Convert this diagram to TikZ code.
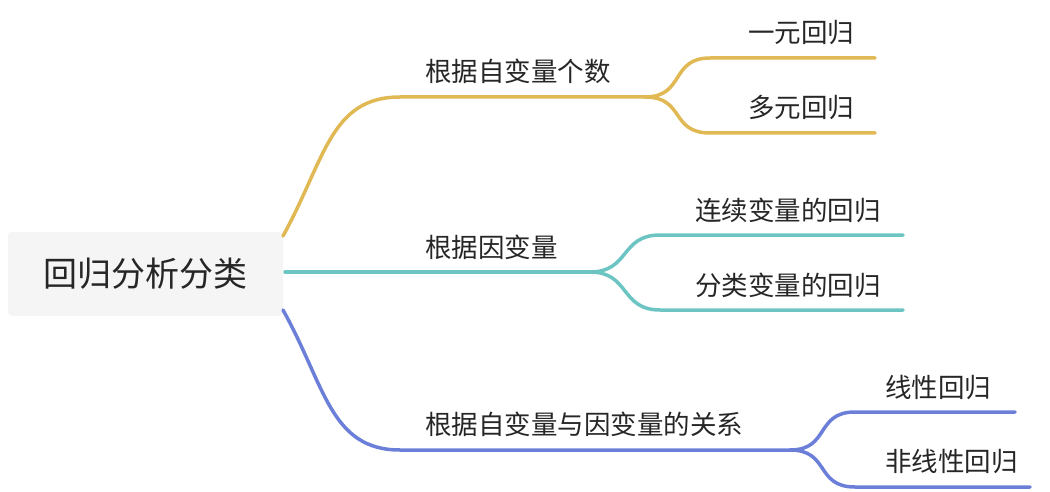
\documentclass[tikz,border=0pt]{standalone}
\usepackage{fontspec}
\newfontfamily\cjk{Noto Sans CJK SC}
\begin{document}
\begin{tikzpicture}[x=1pt,y=-1pt,
  br/.style={line width=3.5pt,line cap=round},
  lab/.style={font=\cjk\fontsize{26.5}{30}\selectfont,text=black!85,inner sep=0pt},
  lft/.style={lab,anchor=west}]
\useasboundingbox (0,0) rectangle (1050,492);
\definecolor{cy}{HTML}{E0B955}
\definecolor{ct}{HTML}{6CC4C3}
\definecolor{cb}{HTML}{6B7FD9}
\node[fill=black!4,rounded corners=4pt,minimum width=275pt,minimum height=84pt,inner sep=0pt,font=\cjk\fontsize{34}{38}\selectfont,text=black!85] (root) at (145.5,274) {回归分析分类};
% yellow
\coordinate (y0) at (283,236); \coordinate (y1) at (400,97); \coordinate (y2) at (645,97);
\coordinate (ya) at (710,58); \coordinate (ya2) at (875,58);
\coordinate (yb) at (710,133); \coordinate (yb2) at (875,133);
\draw[br,cy] (y0) .. controls (325,160) and (330,97) .. (y1) -- (y2);
\draw[br,cy] (y2) .. controls (685,97) and (670,58) .. (ya) -- (ya2);
\draw[br,cy] (y2) .. controls (685,97) and (670,133) .. (yb) -- (yb2);
\node[lft] (l1) at (425,71) {根据自变量个数};
\node[lab] (l1a) at (801,32) {一元回归};
\node[lab] (l1b) at (801,107) {多元回归};
% teal
\coordinate (t0) at (285,272); \coordinate (t1) at (590,272);
\coordinate (ta) at (660,235); \coordinate (ta2) at (903,235);
\coordinate (tb) at (660,310); \coordinate (tb2) at (903,310);
\draw[br,ct] (t0) -- (t1);
\draw[br,ct] (t1) .. controls (630,272) and (620,235) .. (ta) -- (ta2);
\draw[br,ct] (t1) .. controls (630,272) and (620,310) .. (tb) -- (tb2);
\node[lft] (l2) at (425,247) {根据因变量};
\node[lab] (l2a) at (788,210) {连续变量的回归};
\node[lab] (l2b) at (788,285) {分类变量的回归};
% blue
\coordinate (b0) at (283,310); \coordinate (b1) at (400,450); \coordinate (b2) at (790,450);
\coordinate (ba) at (855,412); \coordinate (ba2) at (1015,412);
\coordinate (bb) at (855,487); \coordinate (bb2) at (1030,487);
\draw[br,cb] (b0) .. controls (325,385) and (330,450) .. (b1) -- (b2);
\draw[br,cb] (b2) .. controls (830,450) and (815,412) .. (ba) -- (ba2);
\draw[br,cb] (b2) .. controls (830,450) and (815,487) .. (bb) -- (bb2);
\node[lft] (l3) at (425,424) {根据自变量与因变量的关系};
\node[lft] (l3a) at (885,387) {线性回归};
\node[lft] (l3b) at (885,461) {非线性回归};
\end{tikzpicture}
\end{document}
